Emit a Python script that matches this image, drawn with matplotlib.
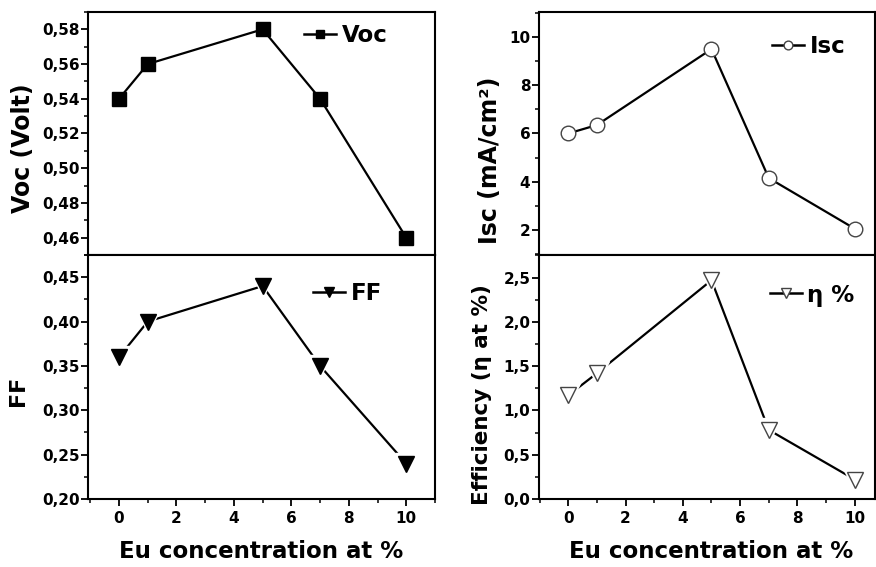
import numpy as np
import matplotlib
matplotlib.use("Agg")
import matplotlib.pyplot as plt
from matplotlib.ticker import FuncFormatter, MultipleLocator, AutoMinorLocator

plt.rcParams['font.family'] = ['DejaVu Sans']
plt.rcParams['font.weight'] = 'bold'

# Eu concentration (at %)
eu = [0, 1, 5, 7, 10]
voc = [0.54, 0.56, 0.58, 0.54, 0.46]
isc = [6.0, 6.35, 9.5, 4.15, 2.05]
ff = [0.36, 0.40, 0.44, 0.35, 0.24]
eff = [1.17, 1.42, 2.47, 0.78, 0.22]

W, H = 876, 567


def comma_fmt(ndec):
    return FuncFormatter(lambda v, p: f"{v:.{ndec}f}".replace(".", ","))


def style_axis(ax, xlim, ylim, ymajor, ndec, xlabels):
    ax.set_xlim(*xlim)
    ax.set_ylim(*ylim)
    ax.xaxis.set_major_locator(MultipleLocator(2))
    ax.xaxis.set_minor_locator(AutoMinorLocator(2))
    ax.yaxis.set_major_locator(MultipleLocator(ymajor))
    ax.yaxis.set_minor_locator(AutoMinorLocator(2))
    ax.yaxis.set_major_formatter(comma_fmt(ndec))
    ax.tick_params(which='major', direction='out', length=5, width=1.3,
                   labelsize=11, top=False, right=False)
    ax.tick_params(axis='y', which='major', pad=1)
    ax.tick_params(which='minor', direction='out', length=3, width=1.1,
                   top=False, right=False)
    if not xlabels:
        ax.tick_params(axis='x', labelbottom=False)
    for s in ax.spines.values():
        s.set_linewidth(1.5)
    for lab in ax.get_xticklabels() + ax.get_yticklabels():
        lab.set_fontweight('bold')


def draw(ax, y, marker, filled, ms, label, halo, leg_xy):
    fc = 'black' if filled else 'white'
    ec = 'black' if filled else '#444444'
    ax.plot(eu, y, color='black', lw=1.6, zorder=2)
    if halo:
        ax.plot(eu, y, ls='none', marker=marker, ms=ms + 5, mfc='white',
                mec='white', zorder=3)
    ax.plot(eu, y, ls='none', marker=marker, ms=ms, mfc=fc, mec=ec,
            mew=1.0, zorder=4)
    h, = ax.plot([], [], color='black', lw=1.8, marker=marker, ms=ms * 0.6,
                 mfc=fc, mec=ec, label=label)
    ax.legend(handles=[h], loc='center right', frameon=False,
              handlelength=1.4, handletextpad=0.25, borderpad=0,
              borderaxespad=0, bbox_to_anchor=leg_xy,
              prop={'weight': 'bold', 'size': 16.5})


fig = plt.figure(figsize=(W / 100, H / 100), dpi=100)
ax_voc = fig.add_axes([0.1005, 0.5503, 0.396, 0.4286])
ax_ff = fig.add_axes([0.1005, 0.1199, 0.396, 0.4304])
ax_isc = fig.add_axes([0.615, 0.5503, 0.3836, 0.4286])
ax_eff = fig.add_axes([0.615, 0.1199, 0.3836, 0.4304])

draw(ax_voc, voc, 's', True, 10.5, 'Voc', False, (0.865, 0.905))
draw(ax_isc, isc, 'o', False, 10.5, 'Isc', False, (0.914, 0.856))
draw(ax_ff, ff, 'v', True, 11, 'FF', True, (0.847, 0.844))
draw(ax_eff, eff, 'v', False, 12, 'η %', True, (0.94, 0.836))

style_axis(ax_voc, (-1.08, 11.0), (0.45, 0.59), 0.02, 2, False)
style_axis(ax_ff, (-1.08, 11.0), (0.20, 0.475), 0.05, 2, True)
style_axis(ax_isc, (-1.03, 10.7), (0.96, 11.04), 2, 0, False)
style_axis(ax_eff, (-1.03, 10.7), (0.0, 2.755), 0.5, 1, True)
ax_isc.yaxis.set_major_formatter(FuncFormatter(lambda v, p: f"{v:.0f}"))


def label(x, y, text, size, rot=0):
    fig.text(x / W, 1 - y / H, text, rotation=rot, ha='center', va='center',
             fontsize=size, fontweight='bold')


label(23, 148, "Voc (Volt)", 17, 90)
label(18, 391, "FF", 16, 90)
label(490, 160, "Isc (mA/cm²)", 17, 90)
label(482, 395, "Efficiency (η at %)", 15.5, 90)
label(261, 552, "Eu concentration at %", 16.5)
label(711, 552, "Eu concentration at %", 16.5)

fig.savefig("out.png", dpi=100)
